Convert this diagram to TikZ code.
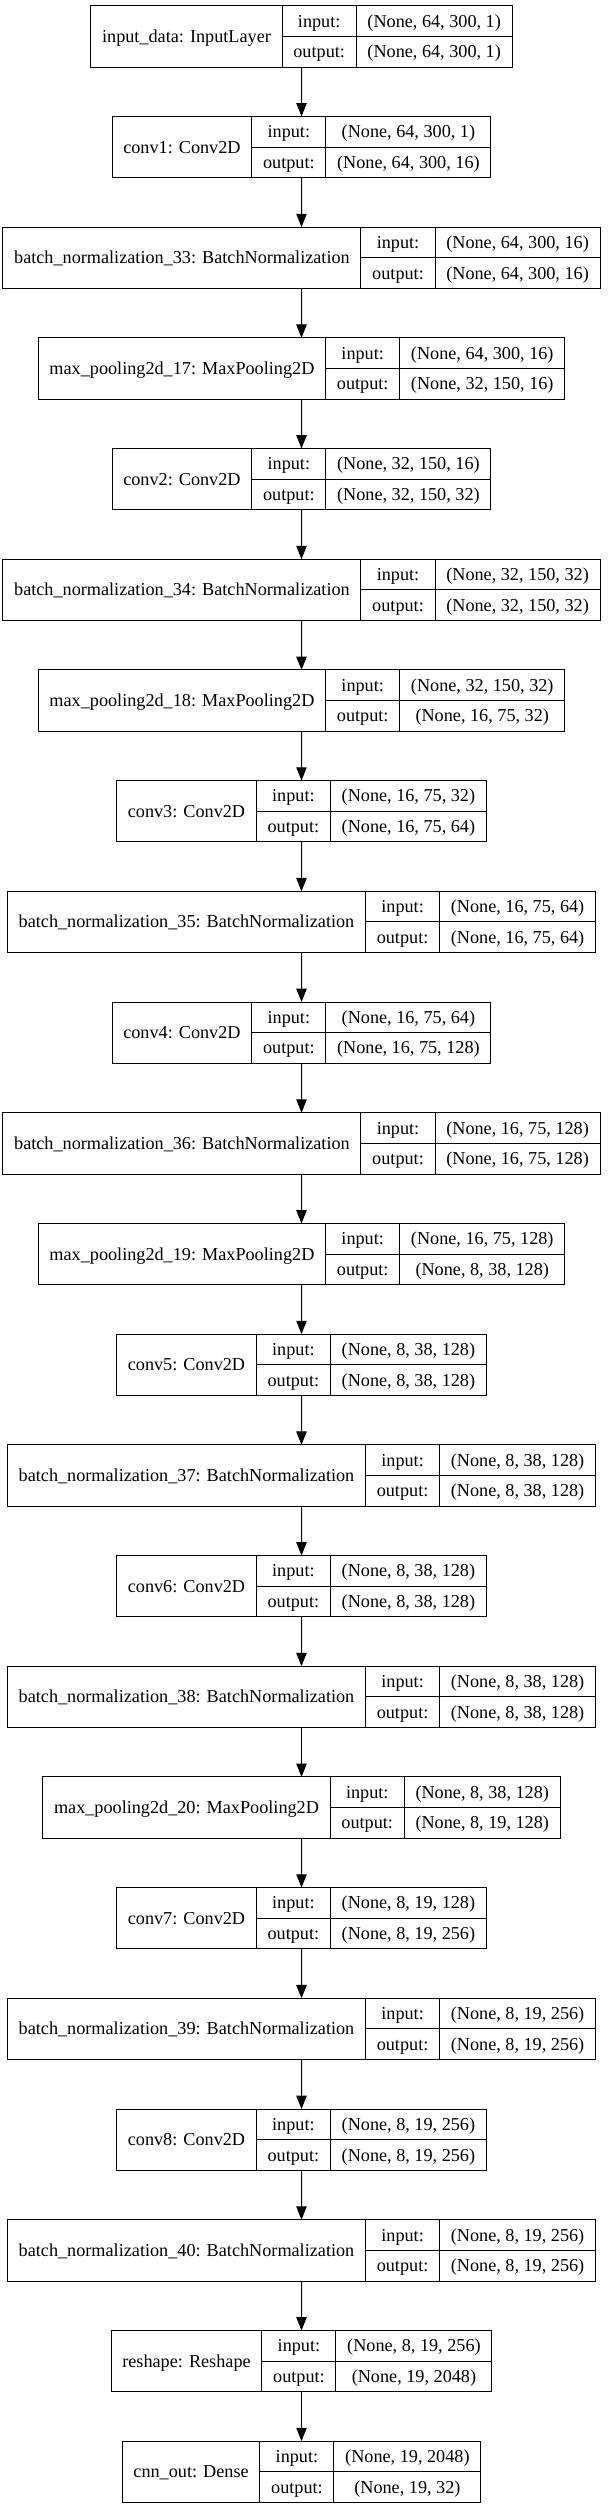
\documentclass[tikz,border=0pt]{standalone}
\usepackage{fontspec}
\setmainfont{Liberation Serif}
\usetikzlibrary{arrows.meta,fit}
\newcommand\lfont{\fontsize{13.65pt}{16pt}\selectfont}
\newlength\wA \newlength\wB \newlength\wC \newlength\wT
\tikzset{
  cellbase/.style={draw,line width=0.75pt,inner sep=0pt,outer sep=0pt,font=\lfont,text height=9pt,text depth=0pt},
  namecell/.style={cellbase,minimum height=45.98pt},
  iocell/.style={cellbase,minimum height=22.99pt},
  boxfit/.style={inner sep=0pt,outer sep=0pt},
  edge/.style={line width=0.75pt,-{Triangle[length=10pt,width=7.8pt]}}
}
% measuring pass (outside the picture)
\newcommand\measureL[5]{%
 \settowidth\wA{\lfont #3}\addtolength\wA{16.875pt}%
 \settowidth\wC{\lfont #4}\settowidth\wT{\lfont #5}%
 \ifdim\wT>\wC \wC=\wT\fi \addtolength\wC{16.875pt}%
 \expandafter\xdef\csname wa@#1\endcsname{\the\wA}%
 \expandafter\xdef\csname wc@#1\endcsname{\the\wC}%
}
% drawing pass (inside the picture)
\newcommand\mklayer[5]{%
 \edef\cwa{\csname wa@#1\endcsname}%
 \edef\cwc{\csname wc@#1\endcsname}%
 \pgfmathsetmacro\lx{301.5-(\cwa+\gwb+\cwc)/1.5}%
 \pgfmathsetmacro\ty{5.7+110.7*#2}%
 \node[namecell,minimum width=\cwa,anchor=north west] (#1n) at (\lx,\ty) {#3};
 \node[iocell,minimum width=\gwb,anchor=north west] (#1i) at (#1n.north east) {input:};
 \node[iocell,minimum width=\gwb,anchor=north west] (#1o) at (#1i.south west) {output:};
 \node[iocell,minimum width=\cwc,anchor=north west] (#1a) at (#1i.north east) {#4};
 \node[iocell,minimum width=\cwc,anchor=north west] (#1b) at (#1a.south west) {#5};
 \node[fit=(#1n)(#1b),boxfit] (#1) {};
}
\newcommand\layerdata{%
\L{L0}{0}{input\_data: InputLayer}{(None, 64, 300, 1)}{(None, 64, 300, 1)}
\L{L1}{1}{conv1: Conv2D}{(None, 64, 300, 1)}{(None, 64, 300, 16)}
\L{L2}{2}{batch\_normalization\_33: BatchNormalization}{(None, 64, 300, 16)}{(None, 64, 300, 16)}
\L{L3}{3}{max\_pooling2d\_17: MaxPooling2D}{(None, 64, 300, 16)}{(None, 32, 150, 16)}
\L{L4}{4}{conv2: Conv2D}{(None, 32, 150, 16)}{(None, 32, 150, 32)}
\L{L5}{5}{batch\_normalization\_34: BatchNormalization}{(None, 32, 150, 32)}{(None, 32, 150, 32)}
\L{L6}{6}{max\_pooling2d\_18: MaxPooling2D}{(None, 32, 150, 32)}{(None, 16, 75, 32)}
\L{L7}{7}{conv3: Conv2D}{(None, 16, 75, 32)}{(None, 16, 75, 64)}
\L{L8}{8}{batch\_normalization\_35: BatchNormalization}{(None, 16, 75, 64)}{(None, 16, 75, 64)}
\L{L9}{9}{conv4: Conv2D}{(None, 16, 75, 64)}{(None, 16, 75, 128)}
\L{L10}{10}{batch\_normalization\_36: BatchNormalization}{(None, 16, 75, 128)}{(None, 16, 75, 128)}
\L{L11}{11}{max\_pooling2d\_19: MaxPooling2D}{(None, 16, 75, 128)}{(None, 8, 38, 128)}
\L{L12}{12}{conv5: Conv2D}{(None, 8, 38, 128)}{(None, 8, 38, 128)}
\L{L13}{13}{batch\_normalization\_37: BatchNormalization}{(None, 8, 38, 128)}{(None, 8, 38, 128)}
\L{L14}{14}{conv6: Conv2D}{(None, 8, 38, 128)}{(None, 8, 38, 128)}
\L{L15}{15}{batch\_normalization\_38: BatchNormalization}{(None, 8, 38, 128)}{(None, 8, 38, 128)}
\L{L16}{16}{max\_pooling2d\_20: MaxPooling2D}{(None, 8, 38, 128)}{(None, 8, 19, 128)}
\L{L17}{17}{conv7: Conv2D}{(None, 8, 19, 128)}{(None, 8, 19, 256)}
\L{L18}{18}{batch\_normalization\_39: BatchNormalization}{(None, 8, 19, 256)}{(None, 8, 19, 256)}
\L{L19}{19}{conv8: Conv2D}{(None, 8, 19, 256)}{(None, 8, 19, 256)}
\L{L20}{20}{batch\_normalization\_40: BatchNormalization}{(None, 8, 19, 256)}{(None, 8, 19, 256)}
\L{L21}{21}{reshape: Reshape}{(None, 8, 19, 256)}{(None, 19, 2048)}
\L{L22}{22}{cnn\_out: Dense}{(None, 19, 2048)}{(None, 19, 32)}
}
\begin{document}
\settowidth\wB{\lfont output:}\addtolength\wB{16.875pt}%
\xdef\gwb{\the\wB}%
\let\L\measureL
\layerdata
\begin{tikzpicture}[x=0.75pt,y=-0.75pt]
\path[use as bounding box,fill=white] (0,0) rectangle (607,2508);
\let\L\mklayer
\layerdata
\foreach \a [count=\b] in {0,...,21} {\draw[edge] (L\a.south) -- (L\b.north);}
\end{tikzpicture}
\end{document}
